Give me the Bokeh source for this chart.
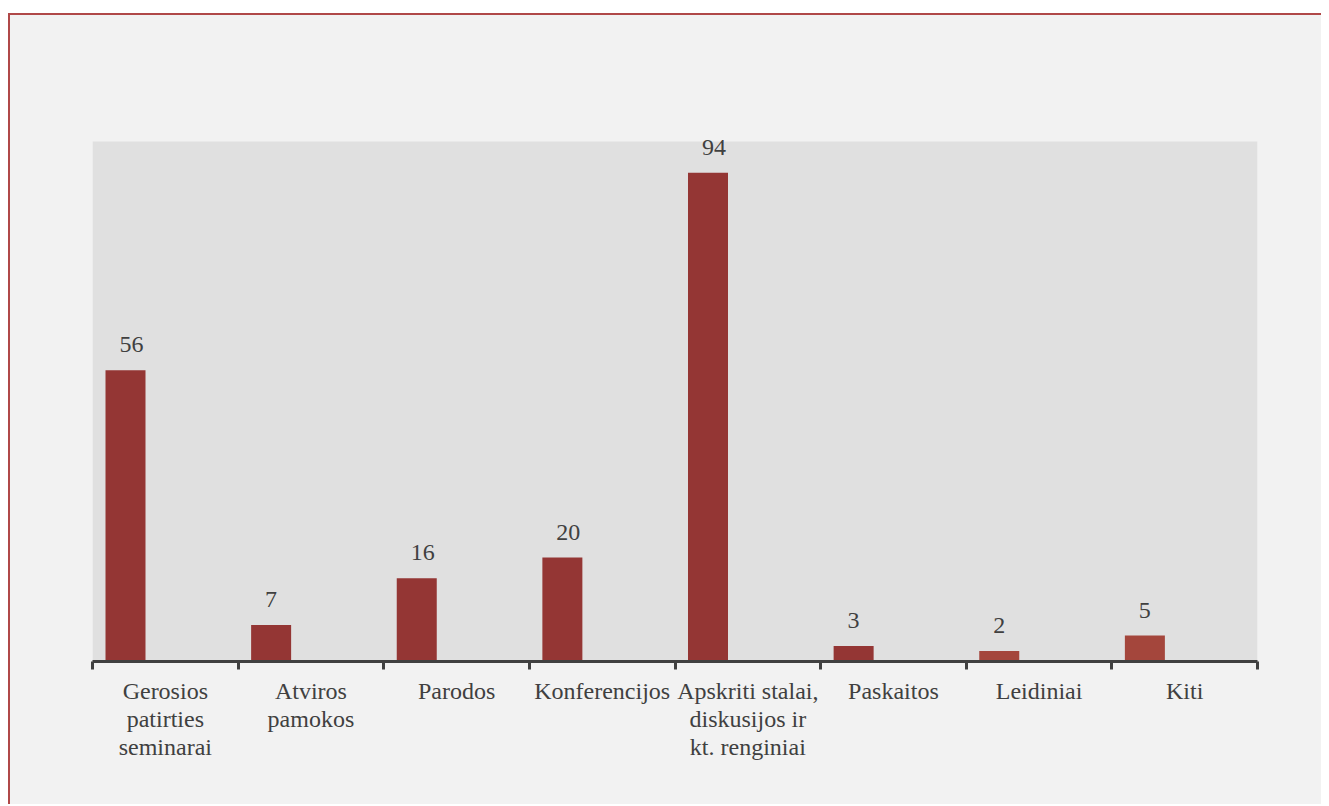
import numpy as np
from bokeh.plotting import figure
from bokeh.models import ColumnDataSource, FixedTicker, Range1d, Spacer, LabelSet, BoxAnnotation
from bokeh.layouts import column
from bokeh.embed import file_html
from bokeh.resources import INLINE

categories = [
    "Gerosios\npatirties\nseminarai",
    "Atviros\npamokos",
    "Parodos",
    "Konferencijos",
    "Apskriti stalai,\ndiskusijos ir\nkt. renginiai",
    "Paskaitos",
    "Leidiniai",
    "Kiti",
]
values = [56, 7, 16, 20, 94, 3, 2, 5]
y_max = 100

n = len(categories)
idx = np.arange(n)
dark = "#943634"
light = "#a4463c"
colors = [dark] * 6 + [light] * 2

src = ColumnDataSource(dict(
    x=idx + 0.2266,
    top=values,
    label=[str(v) for v in values],
    color=colors,
))

FONT = "Liberation Serif"
TXT = "#404040"
BG = "#f2f2f2"

p = figure(
    width=1319, height=791,
    x_range=Range1d(0, n), y_range=Range1d(0, y_max * 1.1),
    output_backend="svg", toolbar_location=None,
    min_border_left=82, min_border_right=72,
    min_border_top=74, min_border_bottom=145,
    background_fill_color=None,
    border_fill_color=None,
    outline_line_color=None,
)
p.styles = {"border-left": "2px solid #b04848",
            "border-top": "2px solid #b04848",
            "background-color": BG}

# plot-area background (0..100)
p.add_layout(BoxAnnotation(left=0, right=n, bottom=0, top=y_max,
                           fill_color="#e0e0e0", fill_alpha=1.0,
                           line_color=None, level="underlay"))

p.vbar(x="x", top="top", bottom=0, width=0.2747, fill_color="color",
       line_color=None, source=src)
labels = LabelSet(x="x", y="top", text="label", source=src,
                  text_font=FONT, text_font_size="24px", text_color=TXT,
                  text_align="left", text_baseline="alphabetic",
                  x_offset=-6, y_offset=18)
p.add_layout(labels)

p.xgrid.visible = False
p.ygrid.visible = False
p.yaxis.visible = False

ax = p.xaxis[0]
ax.ticker = FixedTicker(ticks=[float(i) + 0.5 for i in idx],
                        minor_ticks=[float(i) for i in range(n + 1)])
ax.major_label_overrides = {float(i) + 0.5: categories[i] for i in idx}
ax.major_tick_out = 0
ax.major_tick_in = 0
ax.minor_tick_out = 8
ax.minor_tick_in = 0
ax.minor_tick_line_color = TXT
ax.minor_tick_line_width = 3
ax.axis_line_color = TXT
ax.axis_line_width = 3
ax.major_label_text_font = FONT
ax.major_label_text_font_size = "24px"
ax.major_label_text_color = TXT
ax.major_label_text_line_height = 1.08
ax.major_label_standoff = 8
ax.major_label_orientation = "horizontal"

layout = column(Spacer(height=5, width=1319), p, spacing=0)

html = file_html(layout, INLINE)
html = html.replace("<body>", '<body style="margin:8px;">')
open("out.html", "w").write(html)
